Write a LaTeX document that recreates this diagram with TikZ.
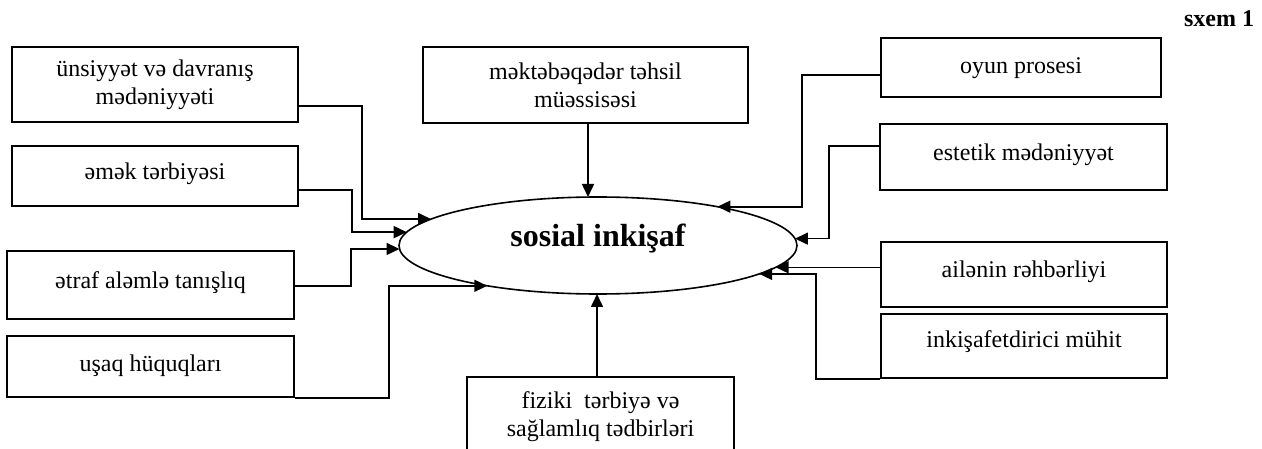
\documentclass[tikz,border=0pt]{standalone}
\usepackage{fontspec}
\setmainfont{Liberation Serif}
\usetikzlibrary{arrows.meta,shapes.geometric}

\begin{document}
\begin{tikzpicture}[x=1pt, y=-1pt, >={Triangle[length=13pt, width=12pt]},
  main/.style = {draw, line width=2pt, inner sep=0pt, align=center, font=\fontsize{24}{28}\selectfont},
  low/.style = {text height=17pt, text depth=#1},
  conn/.style = {->, line width=1.6pt}]
\clip (0,0) rectangle (1262,449);

\node[draw, ellipse, line width=1.6pt, minimum width=398, minimum height=97, inner sep=0pt, outer sep=0pt,
  font=\fontsize{32}{36}\selectfont\bfseries, text height=22pt, text depth=19pt] (soc) at (598,245.5) {sosial inkişaf};

\node[main, minimum width=286, minimum height=75] (uns) at (155,84.5) {ünsiyyət və davranış\\mədəniyyəti};
\node[main, low=9pt, minimum width=286, minimum height=60] (emek) at (155,176) {əmək tərbiyəsi};
\node[main, low=10pt, minimum width=287, minimum height=68] (etraf) at (150.5,285) {ətraf aləmlə tanışlıq};
\node[main, low=8pt, minimum width=287, minimum height=61] (usaq) at (150.5,366.5) {uşaq hüquqları};

\node[main, minimum width=325, minimum height=76] (mek) at (585.5,85) {məktəbəqədər təhsil\\müəssisəsi};
\node[main, minimum width=267, minimum height=80] (fiz) at (600.5,417) {fiziki\ \ tərbiyə və\\sağlamlıq tədbirləri};

\node[main, low=5pt, minimum width=280, minimum height=59] (oyun) at (1021,67.5) {oyun prosesi};
\node[main, low=10pt, minimum width=287, minimum height=66] (est) at (1023.5,157) {estetik mədəniyyət};
\node[main, low=10pt, minimum width=286, minimum height=65] (ail) at (1024,274.5) {ailənin rəhbərliyi};
\node[main, low=15pt, minimum width=286, minimum height=64] (ink) at (1024,346) {inkişafetdirici mühit};

\node[font=\fontsize{24}{28}\selectfont\bfseries, anchor=base] (sxem) at (1219,27) {sxem 1};

\draw[conn] ([yshift=-21.5pt]uns.east) -- ++(63,0) |- (soc.171.9);
\draw[conn] ([yshift=-14pt]emek.east) -- ++(53,0) |- (soc.176);
\draw[conn] ([yshift=-1pt]etraf.east) -- ++(56,0) |- (soc.181.3);
\draw[conn] (usaq.south east) -- ++(94,0) |- (soc.200.3);

\draw[conn] ([xshift=2.5pt]mek.south) -- ([xshift=2.5pt]mek.south |- soc.north);
\draw[conn] ([xshift=-3.5pt]fiz.north) -- ([xshift=-3.5pt]fiz.north |- soc.south);

\draw[conn] ([yshift=-7.5pt]oyun.west) -- ++(-78,0) |- (soc.18.9);
\draw[conn] ([yshift=11pt]est.west) -- ++(-50,0) |- (soc.2.8);
\draw[conn] (soc.353.5 -| ail.west) -- (soc.353.5);
\draw[conn] (ink.south west) -- ++(-64,0) |- (soc.350.5);

\end{tikzpicture}
\end{document}
